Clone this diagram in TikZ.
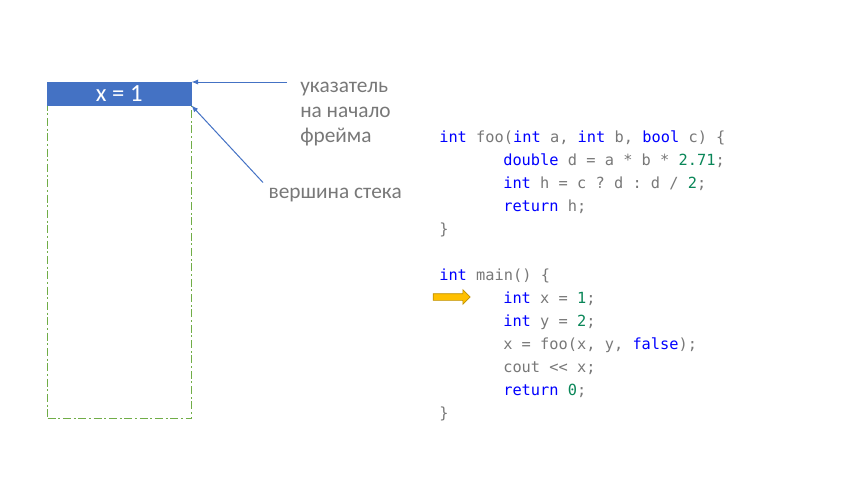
\documentclass[tikz,border=0pt]{standalone}
\usepackage{fontspec}
\setmainfont{Carlito}
\setmonofont{DejaVu Sans Mono}
\usetikzlibrary{arrows.meta,shapes.arrows}
\definecolor{frameblue}{RGB}{68,114,196}
\definecolor{stackgreen}{RGB}{112,173,71}
\definecolor{kwblue}{RGB}{0,0,255}
\definecolor{numgreen}{RGB}{9,134,88}
\definecolor{txtgray}{RGB}{120,120,120}
\definecolor{curorange}{RGB}{255,192,0}
\newcommand{\kw}[1]{\textcolor{kwblue}{#1}}
\newcommand{\nm}[1]{\textcolor{numgreen}{#1}}

\begin{document}
\begin{tikzpicture}[x=0.75pt,y=-0.75pt]
    \tikzstyle{frame}=[rectangle,fill=frameblue,draw=frameblue,text=white,minimum width=108pt,minimum height=17.25pt,inner sep=0pt,font=\fontsize{18.5}{20}\selectfont]
    \tikzstyle{stack}=[rectangle,draw=stackgreen,line width=0.75pt,dash pattern=on 6pt off 2pt on 1.5pt off 2pt,minimum width=108pt,minimum height=234.75pt,inner sep=0pt]
    \tikzstyle{lbl}=[text=txtgray,font=\fontsize{16}{18.75}\selectfont,align=left]
    \tikzstyle{code}=[anchor=base west,inner sep=0pt,text=txtgray,font=\ttfamily\fontsize{11.5}{13}\selectfont]
    \tikzstyle{ptr}=[draw=frameblue,line width=0.75pt,-{Latex[length=5pt,width=4pt]}]
    \tikzstyle{cursor}=[single arrow,fill=curorange,draw=curorange!75!black,line width=0.5pt,minimum height=27.75pt,minimum width=10.5pt,single arrow head extend=3pt,inner sep=2.25pt]

\useasboundingbox (0,0) rectangle (853,480);

\node[stack, anchor=north west] (st) at (47,105) {};
\node[frame, anchor=north west] (frm) at (47,82) {x = 1};

\node[lbl, anchor=north west, inner xsep=9.75pt, inner ysep=0pt] (fp) at (287,82) {указатель\\на начало\\фрейма};
\node[lbl, anchor=west, inner sep=4pt] (sp) at (263,195) {вершина стека};

\draw[ptr] (fp.west |- frm.north east) -- (frm.north east);
\draw[ptr] (sp.north west) -- (frm.south east);

\node[code] (l1) at (439,142) {\kw{int} foo(\kw{int} a, \kw{int} b, \kw{bool} c) \{};
\node[code] (l2) at (503,165) {\kw{double} d = a * b * \nm{2.71};};
\node[code] (l3) at (503,188) {\kw{int} h = c ? d : d / \nm{2};};
\node[code] (l4) at (503,211) {\kw{return} h;};
\node[code] (l5) at (439,234) {\}};
\node[code] (l6) at (439,280) {\kw{int} main() \{};
\node[code] (l7) at (503,303) {\kw{int} x = \nm{1};};
\node[code] (l8) at (503,326) {\kw{int} y = \nm{2};};
\node[code] (l9) at (503,349) {x = foo(x, y, \kw{false});};
\node[code] (l10) at (503,372) {cout << x;};
\node[code] (l11) at (503,395) {\kw{return} \nm{0};};
\node[code] (l12) at (439,418) {\}};

\node[cursor] (cur) at (450,297) {};
\end{tikzpicture}
\end{document}
